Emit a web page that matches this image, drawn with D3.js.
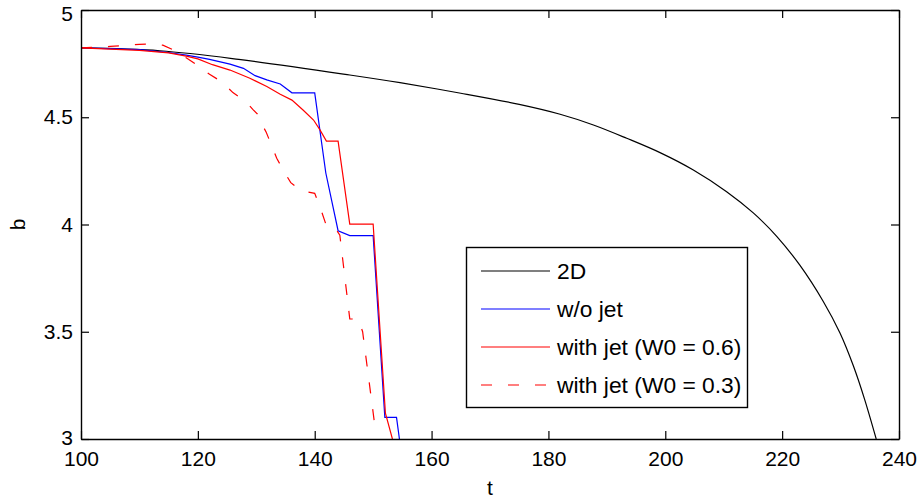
<!DOCTYPE html>
<html>
<head>
<meta charset="utf-8">
<script src="https://cdn.jsdelivr.net/npm/d3@7"></script>
<style>
  html, body { margin: 0; padding: 0; background: #fff; }
  svg { display: block; font-family: "Liberation Sans", Arial, Helvetica, sans-serif; }
</style>
</head>
<body>
<svg id="chart" width="920" height="500"></svg>
<script>
// Axis ticks
const tTicks = [100, 120, 140, 160, 180, 200, 220, 240];
const bTicks = [3, 3.5, 4, 4.5, 5];

// 2D reference solution
const t2D = [100, 113.5, 127, 146, 154.6, 165, 175, 182, 187.7, 193.4, 199.1, 204.8, 210.5, 215.06, 219.07, 223.06, 227.04, 229.9, 232.2, 234.1, 236.1];
const b2D = [4.823, 4.810, 4.770, 4.697, 4.661, 4.612, 4.560, 4.514, 4.464, 4.402, 4.335, 4.254, 4.153, 4.054, 3.945, 3.809, 3.641, 3.494, 3.340, 3.186, 3.000];

// without jet
const tNoJet = [100, 105, 110, 115, 118, 120, 122, 125.5, 127.8, 129.8, 131.8, 134.1, 136.1, 140.0, 141.9, 144.0, 146.0, 150.0, 152.0, 154.0, 154.5];
const bNoJet = [4.823, 4.820, 4.815, 4.802, 4.790, 4.780, 4.770, 4.748, 4.728, 4.694, 4.674, 4.655, 4.614, 4.614, 4.240, 3.971, 3.948, 3.948, 3.101, 3.101, 3.000];

// with jet, W0 = 0.6
const tJet06 = [100, 105, 110, 115, 118, 120, 122.5, 125.5, 128.9, 131.8, 134.1, 136.1, 138.0, 139.8, 140.9, 142.0, 144.0, 146.0, 150.0, 152.1, 153.3];
const bJet06 = [4.823, 4.818, 4.812, 4.800, 4.785, 4.772, 4.745, 4.720, 4.682, 4.643, 4.607, 4.580, 4.534, 4.487, 4.441, 4.389, 4.389, 4.002, 4.002, 3.120, 3.000];

// with jet, W0 = 0.3
const tJet03 = [100, 105, 110, 112, 114, 116, 118, 120, 122, 124, 126, 128, 129.4, 130.2, 130.6, 131.7, 132.6, 133.5, 134.6, 135.9, 137.6, 140.0, 140.9, 141.9, 143.1, 144.3, 146.0, 147.5, 148.2, 150.3, 150.5];
const bJet03 = [4.823, 4.830, 4.840, 4.842, 4.836, 4.812, 4.777, 4.741, 4.700, 4.667, 4.615, 4.578, 4.537, 4.515, 4.487, 4.430, 4.370, 4.309, 4.254, 4.195, 4.158, 4.145, 4.083, 4.002, 4.000, 3.950, 3.560, 3.558, 3.500, 3.060, 3.020];

const seriesNames = ["2D", "w/o jet", "with jet (W0 = 0.6)", "with jet (W0 = 0.3)"];

const series = [
  { name: seriesNames[0], t: t2D, b: b2D, color: "#000000", dash: null, curve: d3.curveCatmullRom },
  { name: seriesNames[1], t: tNoJet, b: bNoJet, color: "#0000ff", dash: null, curve: d3.curveLinear },
  { name: seriesNames[2], t: tJet06, b: bJet06, color: "#ff0000", dash: null, curve: d3.curveLinear },
  { name: seriesNames[3], t: tJet03, b: bJet03, color: "#ff0000", dash: "11,16", curve: d3.curveLinear }
];

const svg = d3.select("#chart");
const plotL = 81, plotR = 899, plotT = 10, plotB = 439;

const x = d3.scaleLinear().domain([100, 240]).range([plotL, plotR]);
const y = d3.scaleLinear().domain([3, 5]).range([plotB, plotT]);

const tickLen = 8;
const fontSize = 21;

svg.append("defs").append("clipPath").attr("id", "plotClip")
  .append("rect")
  .attr("x", plotL).attr("y", plotT)
  .attr("width", plotR - plotL).attr("height", plotB - plotT);

// data lines
const plot = svg.append("g").attr("clip-path", "url(#plotClip)");
series.forEach(s => {
  const pts = s.t.map((tv, i) => [tv, s.b[i]]);
  const line = d3.line().x(d => x(d[0])).y(d => y(d[1])).curve(s.curve);
  plot.append("path")
    .attr("d", line(pts))
    .attr("fill", "none")
    .attr("stroke", s.color)
    .attr("stroke-width", 1.2)
    .attr("stroke-dasharray", s.dash);
});

// axes: bottom / left with labels, top / right as plain inward ticks
const fmt = d => String(d);
const axB = d3.axisBottom(x).tickValues(tTicks).tickSizeInner(-tickLen).tickSizeOuter(0).tickPadding(12).tickFormat(fmt);
const axT = d3.axisTop(x).tickValues(tTicks).tickSizeInner(-tickLen).tickSizeOuter(0).tickFormat("");
const axL = d3.axisLeft(y).tickValues(bTicks).tickSizeInner(-tickLen).tickSizeOuter(0).tickPadding(8).tickFormat(fmt);
const axR = d3.axisRight(y).tickValues(bTicks).tickSizeInner(-tickLen).tickSizeOuter(0).tickFormat("");

function styleAxis(g) {
  g.selectAll(".domain").attr("stroke", "#000").attr("stroke-width", 1.4);
  g.selectAll(".tick line").attr("stroke", "#000").attr("stroke-width", 1.2);
  g.selectAll(".tick text").attr("fill", "#000").style("font-size", fontSize + "px")
    .style("font-family", '"Liberation Sans", Arial, Helvetica, sans-serif');
}

svg.append("g").attr("transform", `translate(0,${plotB})`).call(axB).call(styleAxis);
svg.append("g").attr("transform", `translate(0,${plotT})`).call(axT).call(styleAxis);
const gL = svg.append("g").attr("transform", `translate(${plotL},0)`).call(axL).call(styleAxis);
// keep the topmost label inside the figure, lift the lowest one off the x labels
gL.selectAll(".tick").filter(d => d === 5).select("text").attr("dy", "0.5em");
gL.selectAll(".tick").filter(d => d === 3).select("text").attr("dy", "0.25em");
svg.append("g").attr("transform", `translate(${plotR},0)`).call(axR).call(styleAxis);

// axis titles
svg.append("text")
  .attr("x", (plotL + plotR) / 2).attr("y", 495)
  .attr("text-anchor", "middle")
  .style("font-size", fontSize + "px")
  .text("t");
svg.append("text")
  .attr("transform", `translate(25,${(plotT + plotB) / 2}) rotate(-90)`)
  .attr("text-anchor", "middle")
  .style("font-size", fontSize + "px")
  .text("b");

// legend
const lg = svg.append("g");
lg.append("rect")
  .attr("x", 466.5).attr("y", 247.5).attr("width", 281).attr("height", 160)
  .attr("fill", "#fff").attr("stroke", "#000").attr("stroke-width", 1.4);
const rowY = [271, 309, 347, 385];
series.forEach((s, i) => {
  lg.append("line")
    .attr("x1", 481).attr("x2", 550)
    .attr("y1", rowY[i]).attr("y2", rowY[i])
    .attr("stroke", s.color).attr("stroke-width", 1.2)
    .attr("stroke-dasharray", s.dash);
  lg.append("text")
    .attr("x", 557).attr("y", rowY[i])
    .attr("dy", "0.35em")
    .style("font-size", "22.8px")
    .text(s.name);
});
</script>
</body>
</html>
